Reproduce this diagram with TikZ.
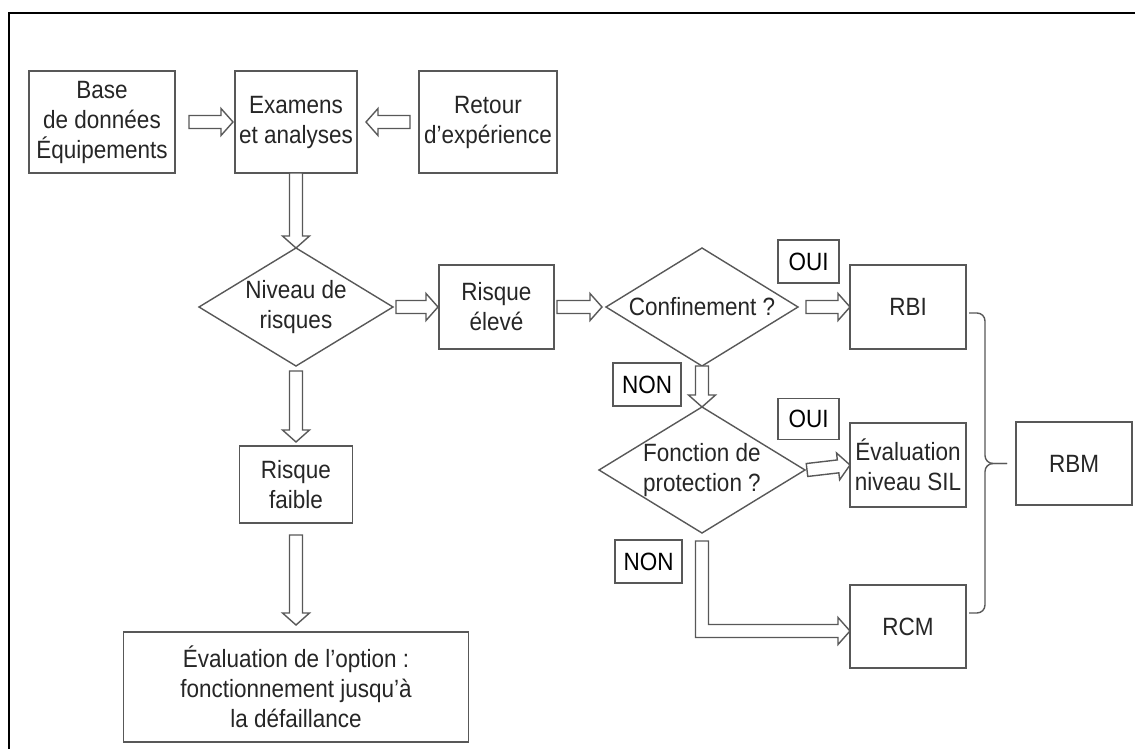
\documentclass[tikz,border=0pt]{standalone}
\usepackage{fontspec}
\setmainfont[FakeStretch=0.9]{Liberation Sans}
\usetikzlibrary{shapes.geometric,calc}
\definecolor{edge}{HTML}{585858}
\definecolor{ink}{HTML}{262626}
\tikzset{
  txt/.style={font=\fontsize{25}{30}\selectfont},
  box/.style={rectangle, draw=edge, line width=1.4pt, fill=white, inner sep=0pt,
    outer sep=0pt, align=center, text=ink, txt},
  tag/.style={box, text=black},
  decision/.style={diamond, draw=edge, line width=1.4pt, fill=white, inner sep=0pt, outer sep=0pt},
  caption/.style={align=center, text=ink, inner sep=0pt, txt},
  flow/.style={draw=edge, line width=1.4pt, fill=white, line join=miter},
  brc/.style={draw=edge, line width=1.4pt, rounded corners=8pt},
  frame/.style={draw=black, line width=2pt, line join=miter},
}
% open block arrow from #1 (tail) to #2 (tip)
\newcommand\flowarrow[2]{%
  \coordinate (fa-h) at ($(#2)!12pt!(#1)$);
  \path[flow] ($(#1)!6.5pt!90:(#2)$) -- ($(fa-h)!6.5pt!90:(#2)$)
    -- ($(fa-h)!13.5pt!90:(#2)$) -- (#2) -- ($(fa-h)!13.5pt!-90:(#2)$)
    -- ($(fa-h)!6.5pt!-90:(#2)$) -- ($(#1)!6.5pt!-90:(#2)$) -- cycle;
}
\begin{document}
\begin{tikzpicture}[x=1pt, y=-1pt]
\useasboundingbox (0,0) rectangle (1135,749);
\draw[frame] (9,749) -- (9,13) -- (1135,13);

% top row
\node[box, minimum width=146, minimum height=102] (base) at (102,122) {Base\\de données\\Équipements};
\node[box, minimum width=122, minimum height=102] (exam) at (296,122) {Examens\\et analyses};
\node[box, minimum width=138, minimum height=102] (ret) at (488,122) {Retour\\d’expérience};

% risk level
\node[decision, minimum width=194, minimum height=118] (niv) at (296,307) {};
\node[caption] (niv-t) at (niv) {Niveau de\\risques};
\node[box, minimum width=115, minimum height=84] (rhigh) at (496.5,307) {Risque\\élevé};
\node[box, minimum width=113, minimum height=77] (rlow) at (296,484.5) {Risque\\faible};
\node[box, minimum width=345, minimum height=110] (opt) at (296,687)
  {Évaluation de l’option :\\fonctionnement jusqu’à\\la défaillance};

% decisions on the right
\node[decision, minimum width=192, minimum height=118] (conf) at (702,307) {};
\node[caption] (conf-t) at (conf) {Confinement ?};
\node[decision, minimum width=206, minimum height=126] (fon) at (702,470) {};
\node[caption] (fon-t) at (fon) {Fonction de\\protection ?};

\node[tag, minimum width=61, minimum height=43] (oui1) at (808.5,261.5) {OUI};
\node[tag, minimum width=61, minimum height=41] (oui2) at (808.5,419) {OUI};
\node[tag, minimum width=68, minimum height=43] (non1) at (647,384.5) {NON};
\node[tag, minimum width=67, minimum height=43] (non2) at (648.5,561.5) {NON};

\node[box, minimum width=116, minimum height=84] (rbi) at (908,307) {RBI};
\node[box, minimum width=116, minimum height=84] (sil) at (908,465) {Évaluation\\niveau SIL};
\node[box, minimum width=116, minimum height=83] (rcm) at (908,626.5) {RCM};
\node[box, minimum width=116, minimum height=83] (rbm) at (1074,463.5) {RBM};

% arrow ends
\coordinate (a1s) at ([xshift=14pt]base.east);
\coordinate (a1e) at ([xshift=-2pt]exam.west);
\coordinate (a2s) at ([xshift=-9pt]ret.west);
\coordinate (a2e) at ([xshift=9pt]exam.east);
\coordinate (a3e) at (exam.south |- niv.north);
\coordinate (a4s) at ([xshift=3pt]niv.east);
\coordinate (a4e) at ([xshift=-1pt]rhigh.west);
\coordinate (a5s) at ([xshift=3pt]rhigh.east);
\coordinate (a5e) at ([xshift=-4pt]conf.west);
\coordinate (a6s) at ([xshift=8pt]conf.east);
\coordinate (a8s) at ([xshift=2pt]fon.east);
\coordinate (a9s) at ([yshift=-5pt]niv.south);
\coordinate (a9e) at ([yshift=4pt]rlow.north);
\coordinate (a10s) at ([yshift=-12pt]rlow.south);
\coordinate (a10e) at ([yshift=7pt]opt.north);

\flowarrow{a1s}{a1e}
\flowarrow{a2s}{a2e}
\flowarrow{exam.south}{a3e}
\flowarrow{a4s}{a4e}
\flowarrow{a5s}{a5e}
\flowarrow{a6s}{rbi.west}
\flowarrow{conf.south}{fon.north}
\flowarrow{a8s}{sil.west}
\flowarrow{a9s}{a9e}
\flowarrow{a10s}{a10e}

% bent arrow NON -> RCM
\coordinate (lt) at ([yshift=-8pt]fon.south);
\coordinate (lc) at ([yshift=-4.5pt]lt |- rcm.west);
\coordinate (lp) at ([yshift=-4.5pt]rcm.west);
\path[flow] let \p1=(lt), \p2=(lc), \p3=(lp) in
  (\x1-6.5pt,\y1) -- (\x1+6.5pt,\y1) -- (\x1+6.5pt,\y2+6.5pt) -- (\x3-12pt,\y2+6.5pt)
  -- (\x3-12pt,\y2+13.5pt) -- (\x3,\y2) -- (\x3-12pt,\y2-13.5pt) -- (\x3-12pt,\y2-6.5pt)
  -- (\x1-6.5pt,\y2-6.5pt) -- cycle;

% brace grouping RBI, SIL and RCM into RBM
\coordinate (b1) at ([shift={(3,6)}]rbi.east);
\coordinate (b2) at ([shift={(3,-13.5)}]rcm.east);
\coordinate (bm) at ([xshift=-31pt]rbm.west);
\coordinate (bt) at ([xshift=-9pt]rbm.west);
\draw[brc] (b1) -| (bm) -- (bt);
\draw[brc] (b2) -| (bm) -- (bt);
\end{tikzpicture}
\end{document}
